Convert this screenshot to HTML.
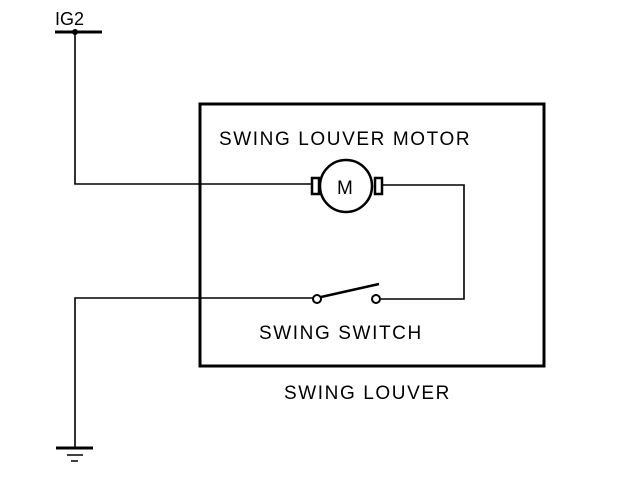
<!DOCTYPE html>
<html><head><style>
html,body{margin:0;padding:0;background:#fff;}
svg{display:block}
text{font-family:"Liberation Sans",Arial,sans-serif;font-size:19px;letter-spacing:1.6px;fill:#000}
</style></head><body>
<svg width="624" height="484" viewBox="0 0 624 484" xmlns="http://www.w3.org/2000/svg">
<text x="55" y="25" style="font-size:18px;letter-spacing:0">IG2</text>
<line x1="55" y1="32" x2="102" y2="32" stroke="#000" stroke-width="3"/>
<circle cx="75" cy="32" r="3" fill="#000"/>
<polyline points="75,32 75,184 311,184" fill="none" stroke="#000" stroke-width="1.6"/>
<rect x="200" y="104" width="344" height="262" fill="none" stroke="#000" stroke-width="3"/>
<text x="219" y="145">SWING LOUVER MOTOR</text>
<circle cx="346" cy="186" r="26" fill="#fff" stroke="#000" stroke-width="2.5"/>
<rect x="312" y="178" width="7" height="16" fill="#fff" stroke="#000" stroke-width="2.5"/>
<rect x="375" y="178" width="7" height="16" fill="#fff" stroke="#000" stroke-width="2.5"/>
<text x="337" y="194" style="font-size:19px;letter-spacing:0">M</text>
<polyline points="382,185 464,185 464,299 381,299" fill="none" stroke="#000" stroke-width="1.6"/>
<polyline points="313,298 75,298 75,448" fill="none" stroke="#000" stroke-width="1.6"/>
<circle cx="317" cy="299" r="4" fill="#fff" stroke="#000" stroke-width="2"/>
<circle cx="376" cy="299" r="4" fill="#fff" stroke="#000" stroke-width="2"/>
<line x1="321" y1="297" x2="379" y2="284" stroke="#000" stroke-width="2.5"/>
<text x="259" y="339">SWING SWITCH</text>
<text x="284" y="399">SWING LOUVER</text>
<line x1="56" y1="448" x2="93" y2="448" stroke="#000" stroke-width="3"/>
<line x1="67" y1="455" x2="83" y2="455" stroke="#000" stroke-width="1.5"/>
<line x1="71" y1="461" x2="78" y2="461" stroke="#000" stroke-width="1.5"/>
</svg>
</body></html>
